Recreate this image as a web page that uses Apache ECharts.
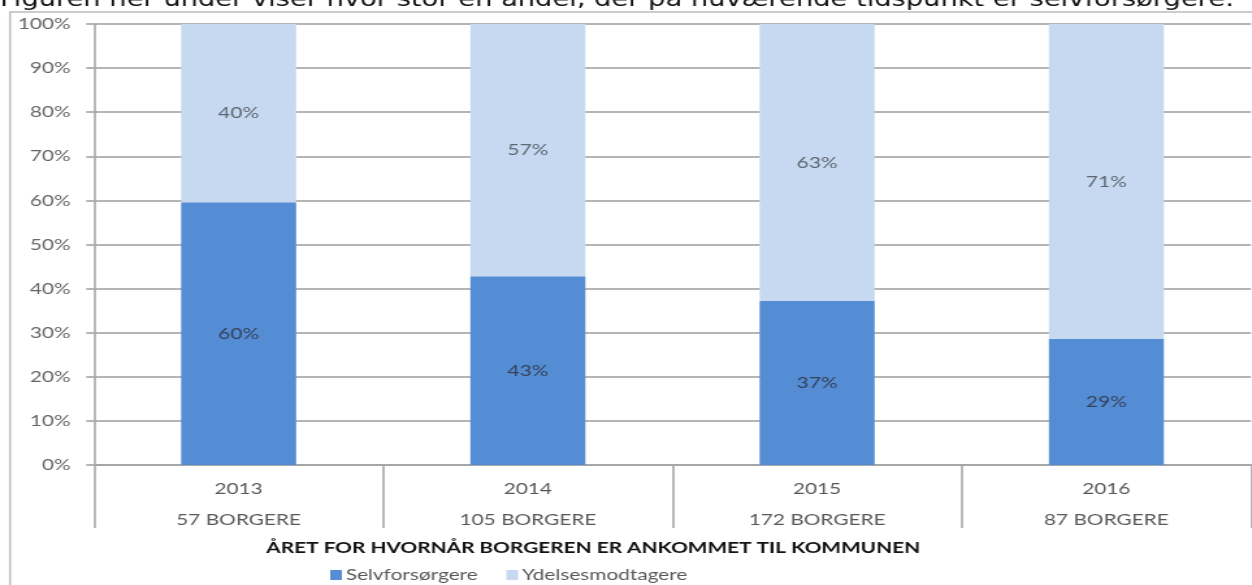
<!DOCTYPE html>
<html>
<head>
<meta charset="utf-8">
<script src="https://cdn.jsdelivr.net/npm/echarts@6/dist/echarts.min.js"></script>
<style>
  html, body { margin: 0; padding: 0; background: #fff; overflow: hidden; }
  /* the reference is stretched sideways, so the chart is drawn narrow and scaled */
  #chart { width: 963px; height: 585px; transform: scaleX(1.3); transform-origin: 0 0; }
</style>
</head>
<body>
<div id="chart"></div>
<script>
var years = ['2013', '2014', '2015', '2016'];
var borgere = [57, 105, 172, 87];
var selvforsorgere = [59.6, 42.8, 37.2, 28.6];
var ydelsesmodtagere = [40.4, 57.2, 62.8, 71.4];
var yTicks = [0, 10, 20, 30, 40, 50, 60, 70, 80, 90, 100];

var categories = [];
for (var i = 0; i < years.length; i++) {
  categories.push(years[i] + '\n' + borgere[i] + ' BORGERE');
}

var chart = echarts.init(document.getElementById('chart'));
var grey = '#595959';
var font = 'Lato, "Liberation Sans", sans-serif';

var option = {
  animation: false,
  textStyle: { fontFamily: font },
  graphic: [
    {
      type: 'text',
      left: 0,
      top: -10,
      style: {
        text: 'Figuren her under viser hvor stor en andel, der på nuværende tidspunkt er selvforsørgere.',
        font: '21px "DejaVu Sans", sans-serif',
        fill: '#111'
      }
    },
    {
      type: 'rect',
      shape: { x: 7.7, y: 12, width: 2000, height: 1000 },
      style: { fill: 'none', stroke: '#bdbdbd', lineWidth: 1.6 }
    }
  ],
  legend: {
    left: 249,
    top: 562,
    itemWidth: 9,
    itemHeight: 10,
    itemGap: 22,
    icon: 'rect',
    textStyle: { color: grey, fontSize: 16, fontFamily: font, padding: [0, 0, 0, -2] },
    data: ['Selvforsørgere', 'Ydelsesmodtagere']
  },
  grid: { left: 72.3, right: 0.7, top: 24, bottom: 120 },
  xAxis: {
    type: 'category',
    data: categories,
    boundaryGap: true,
    name: 'ÅRET FOR HVORNÅR BORGEREN ER ANKOMMET TIL KOMMUNEN',
    nameLocation: 'middle',
    nameGap: 74,
    nameTextStyle: { color: '#111', fontSize: 16, fontWeight: 'bold', fontFamily: font, padding: [0, 122, 0, 0] },
    axisLine: { show: true, lineStyle: { color: '#a6a6a6', width: 2 } },
    axisTick: { show: true, interval: 0, length: 63, lineStyle: { color: '#a6a6a6', width: 1.6 } },
    axisLabel: { color: grey, fontSize: 16, lineHeight: 31, margin: 8, interval: 0 }
  },
  yAxis: {
    type: 'value',
    min: yTicks[0],
    max: yTicks[yTicks.length - 1],
    interval: 10,
    axisLabel: { color: '#666', fontSize: 16, margin: 18, formatter: '{value}%' },
    axisLine: { show: true, lineStyle: { color: '#a6a6a6', width: 1.6 } },
    axisTick: { show: true, length: 6, lineStyle: { color: '#b5b5b5', width: 2 } },
    splitLine: { show: true, lineStyle: { color: '#b5b5b5', width: 2 } }
  },
  series: [
    {
      name: 'Selvforsørgere',
      type: 'bar',
      stack: 'total',
      barWidth: 88.5,
      data: selvforsorgere,
      itemStyle: { color: '#548dd4' },
      label: {
        show: true, position: 'inside', color: '#35425a', fontSize: 16, fontFamily: font,
        formatter: function (p) { return Math.round(p.value) + '%'; }
      }
    },
    {
      name: 'Ydelsesmodtagere',
      type: 'bar',
      stack: 'total',
      barWidth: 88.5,
      data: ydelsesmodtagere,
      itemStyle: { color: '#c6d9f1' },
      label: {
        show: true, position: 'inside', color: '#5f6670', fontSize: 16, fontFamily: font,
        formatter: function (p) { return Math.round(p.value) + '%'; }
      }
    }
  ]
};

chart.setOption(option);
</script>
</body>
</html>
